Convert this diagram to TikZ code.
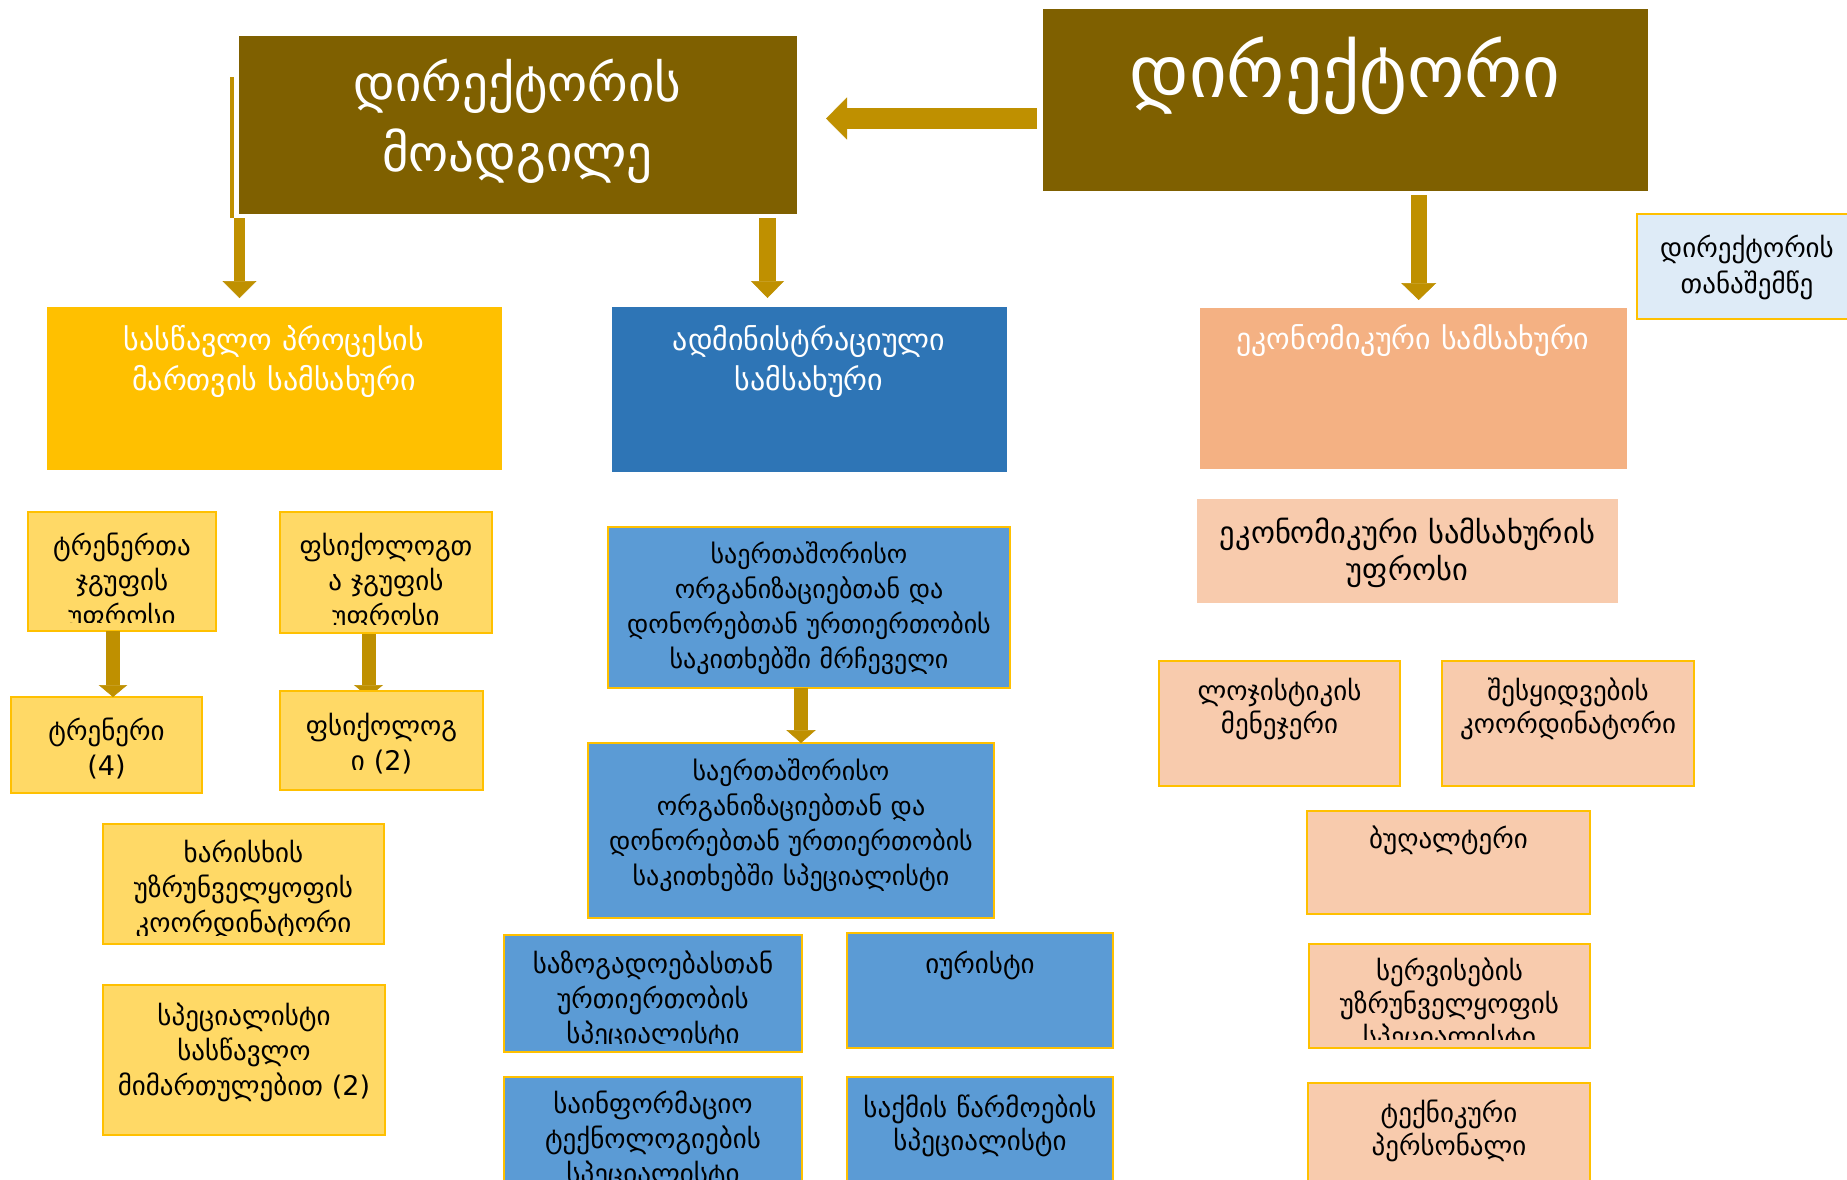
\documentclass[tikz,border=0pt]{standalone}
\usepackage{fontspec}
\newfontfamily\geo{DejaVu Sans}
\usetikzlibrary{positioning,fit,calc,arrows.meta,backgrounds}

\definecolor{dirbrown}{HTML}{7F6000}
\definecolor{arrowgold}{HTML}{BF9000}
\definecolor{edugold}{HTML}{FFC000}
\definecolor{eduyellow}{HTML}{FFD966}
\definecolor{admblue}{HTML}{2E75B6}
\definecolor{admlight}{HTML}{5B9BD5}
\definecolor{ecopeach}{HTML}{F4B183}
\definecolor{ecolight}{HTML}{F8CBAD}
\definecolor{asstblue}{HTML}{DEEBF7}
\definecolor{boxline}{HTML}{FFC000}

\newcommand\fbig{\geo\fontsize{73}{80}\selectfont}
\newcommand\fdep{\geo\fontsize{51}{70}\selectfont}
\newcommand\fhead{\geo\fontsize{30}{40}\selectfont}
\newcommand\fehead{\geo\fontsize{30.5}{37}\selectfont}
\newcommand\fasst{\geo\fontsize{27}{36}\selectfont}
\newcommand\fsub{\geo\fontsize{27}{35}\selectfont}
\newcommand\fblue{\geo\fontsize{26}{35}\selectfont}
\newcommand\fsubt{\geo\fontsize{27}{33}\selectfont}

\tikzset{
  unit/.style={inner sep=0pt, outer sep=0pt},
  head/.style={unit, fill=#1, draw=white, line width=1pt},
  sub/.style={unit, fill=#1, draw=boxline, line width=1.5pt},
  lbl/.style={align=center, inner sep=0pt, anchor=base},
  words/.style n args={3}{path picture={
      \clip ([yshift=9pt]path picture bounding box.south west) rectangle (path picture bounding box.north east);
      \node[lbl,#3] at ($(path picture bounding box.north)+(0,#1)$) {#2};}},
  blockarrow/.style n args={3}{draw=arrowgold, line width=#1, -{Triangle[width=#2,length=#3,line width=0.5pt]}}
}

\begin{document}
\begin{tikzpicture}[x=1pt,y=-1pt]
  \useasboundingbox (0,0) rectangle (1847,1179);
  \begin{scope}[on background layer]
    \fill[white] (0,0) rectangle (1847,1179);
  \end{scope}

  % top level
  \node[head=dirbrown, fit={(1042,8) (1648,191)}, words={89}{დირექტორი}{font=\fbig, text=white}] (dir) {};
  \node[head=dirbrown, fit={(238,35) (797,214)}, words={66}{დირექტორის\\მოადგილე}{font=\fdep, text=white}] (dep) {};
  \node[sub=asstblue, fit={(1637,214) (1857,319)}, words={43}{დირექტორის\\თანაშემწე}{font=\fasst}] (asst) {};

  % departments
  \node[head=edugold, fit={(46,306) (502,470)}, words={44}{სასწავლო პროცესის\\მართვის სამსახური}{font=\fhead, text=white}] (edu) {};
  \node[head=admblue, fit={(611,306) (1007,472)}, words={44}{ადმინისტრაციული\\სამსახური}{font=\fhead, text=white}] (adm) {};
  \node[head=ecopeach, fit={(1199,307) (1627,469)}, words={42}{ეკონომიკური სამსახური}{font=\fhead, text=white}] (eco) {};

  % teaching
  \node[sub=eduyellow, fit={(28,512) (216,631)}, words={43}{ტრენერთა\\ჯგუფის\\უფროსი}{font=\fsub}] (trgrp) {};
  \node[sub=eduyellow, fit={(280,512) (492,633)}, words={43}{ფსიქოლოგთ\\ა ჯგუფის\\უფროსი}{font=\fsub}] (psgrp) {};
  \node[sub=eduyellow, fit={(11,697) (202,793)}, words={43}{ტრენერი\\(4)}{font=\fsub}] (trn) {};
  \node[sub=eduyellow, fit={(280,691) (483,790)}, words={44}{ფსიქოლოგ\\ი (2)}{font=\fsub}] (psy) {};
  \node[sub=eduyellow, fit={(103,824) (384,944)}, words={38}{ხარისხის\\უზრუნველყოფის\\კოორდინატორი}{font=\fsub}] (qual) {};
  \node[sub=eduyellow, fit={(103,985) (385,1135)}, words={40}{სპეციალისტი\\სასწავლო\\მიმართულებით (2)}{font=\fsub}] (spedu) {};

  % administration
  \node[sub=admlight, fit={(608,527) (1010,688)}, words={36}{საერთაშორისო\\ორგანიზაციებთან და\\დონორებთან ურთიერთობის\\საკითხებში მრჩეველი}{font=\fblue}] (adv) {};
  \node[sub=admlight, fit={(588,743) (994,918)}, words={37}{საერთაშორისო\\ორგანიზაციებთან და\\დონორებთან ურთიერთობის\\საკითხებში სპეციალისტი}{font=\fblue}] (spec) {};
  \node[sub=admlight, fit={(504,935) (802,1052)}, words={38}{საზოგადოებასთან\\ურთიერთობის\\სპეციალისტი}{font=\fsub}] (pr) {};
  \node[sub=admlight, fit={(504,1077) (802,1200)}, words={36}{საინფორმაციო\\ტექნოლოგიების\\სპეციალისტი}{font=\fsub}] (it) {};
  \node[sub=admlight, fit={(847,933) (1113,1048)}, words={40}{იურისტი}{font=\fsub}] (law) {};
  \node[sub=admlight, fit={(847,1077) (1113,1200)}, words={40}{საქმის წარმოების\\სპეციალისტი}{font=\fsubt}] (case) {};

  % economy
  \node[unit, fill=ecolight, fit={(1197,499) (1618,603)}, words={44}{ეკონომიკური სამსახურის\\უფროსი}{font=\fehead}] (ecohead) {};
  \node[sub=ecolight, fit={(1159,661) (1400,786)}, words={39}{ლოჯისტიკის\\მენეჯერი}{font=\fsubt}] (log) {};
  \node[sub=ecolight, fit={(1442,661) (1694,786)}, words={39}{შესყიდვების\\კოორდინატორი}{font=\fsubt}] (proc) {};
  \node[sub=ecolight, fit={(1307,811) (1590,914)}, words={37}{ბუღალტერი}{font=\fsubt}] (acc) {};
  \node[sub=ecolight, fit={(1309,944) (1590,1048)}, words={36}{სერვისების\\უზრუნველყოფის\\სპეციალისტი}{font=\fsubt}] (serv) {};
  \node[sub=ecolight, fit={(1308,1083) (1590,1200)}, words={39}{ტექნიკური\\პერსონალი}{font=\fsubt}] (tech) {};

  % arrows
  \draw[blockarrow={21pt}{42pt}{21pt}] ($(dir.west)+(-5,19)$) -- ($(dep.east |- dir.west)+(29,19)$);
  \draw[arrowgold, line width=4pt] ($(dep.north west)+(-6,42)$) -- ($(dep.south west)+(-6,4)$);
  \draw[blockarrow={11pt}{34pt}{17pt}] ($(dep.south west)+(1.5,4)$) coordinate (s1) -- ($(s1 |- edu.north)+(0,-8)$);
  \draw[blockarrow={17pt}{33pt}{17pt}] ($(dep.south east)+(-29.5,4)$) coordinate (s2) -- ($(s2 |- adm.north)+(0,-8)$);
  \draw[blockarrow={16pt}{35pt}{17pt}] ($(dir.south west)+(376.7,4)$) coordinate (s3) -- ($(s3 |- eco.north)+(0,-7)$);
  \draw[blockarrow={14.5pt}{28.5pt}{12pt}] ($(trgrp.south west)+(85,0)$) coordinate (s4) -- (s4 |- trn.north);
  \begin{scope}[on background layer]
    \draw[blockarrow={14pt}{29pt}{12pt}] ($(psgrp.south west)+(88.5,0)$) coordinate (s5) -- ($(s5 |- psy.north)+(0,6)$);
  \end{scope}
  \draw[blockarrow={14.5pt}{29.5pt}{13pt}] ($(adv.south west)+(193,0)$) coordinate (s6) -- (s6 |- spec.north);
\end{tikzpicture}
\end{document}
